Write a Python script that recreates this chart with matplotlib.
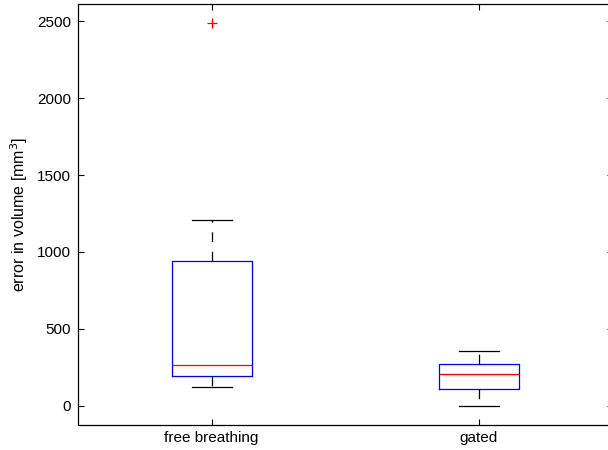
import matplotlib
matplotlib.use("Agg")
import matplotlib.pyplot as plt

plt.rcParams['font.family'] = ['Liberation Sans', 'DejaVu Sans']
plt.rcParams['lines.scale_dashes'] = False

# Box statistics per group
groups = ["free breathing", "gated"]
q1 = [191, 107]
medians = [263, 208]
q3 = [940, 273]
whisker_low = [124, 0]
whisker_high = [1210, 358]
outliers = [[2488], []]

stats = []
for i, name in enumerate(groups):
    stats.append(dict(label=name, q1=q1[i], med=medians[i], q3=q3[i],
                      whislo=whisker_low[i], whishi=whisker_high[i],
                      fliers=outliers[i]))

fig = plt.figure(figsize=(6.08, 4.5), dpi=100)
ax = fig.add_axes([78/608, 25.5/450, (612.6-78)/608, (424.5-4)/450])

ax.bxp(stats, positions=[1, 2], widths=0.3, showfliers=True,
       boxprops=dict(color='#0000ff', linewidth=0.9),
       medianprops=dict(color='#ff0000', linewidth=0.9),
       whiskerprops=dict(color='black', linewidth=0.9, linestyle=(0, (7, 7))),
       capprops=dict(color='black', linewidth=0.9),
       capwidths=0.15,
       flierprops=dict(marker='+', markeredgecolor='#ff0000', markersize=7,
                       markeredgewidth=0.9, linestyle='none'))

ax.set_xlim(0.5, 2.5)
ax.set_ylim(-122, 2612)
ax.set_yticks([0, 500, 1000, 1500, 2000, 2500])
ax.set_xticks([1, 2])
ax.set_xticklabels(groups)
ax.tick_params(direction='in', length=4, width=0.8, top=True, right=True,
               labelsize=11, pad=5)
for s in ax.spines.values():
    s.set_linewidth(0.9)
ax.set_ylabel("error in volume [mm$^3$]", fontsize=11.5)
ax.yaxis.set_label_coords(-0.09, 0.5)

fig.savefig("out.png", dpi=100)
